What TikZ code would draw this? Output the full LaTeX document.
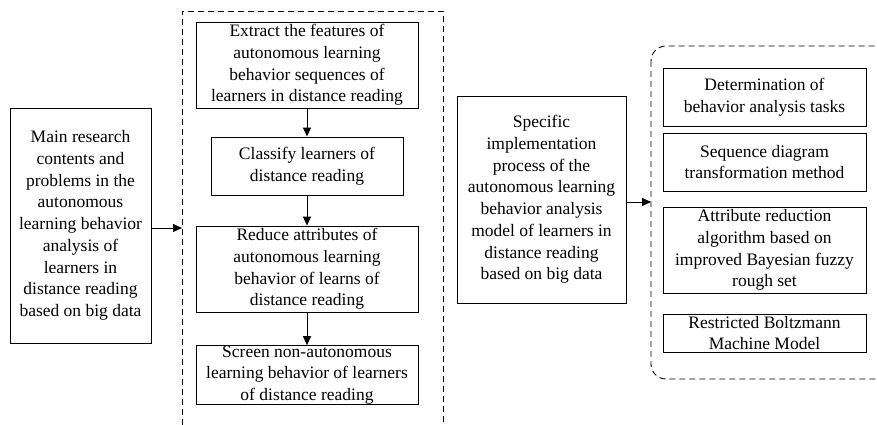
\documentclass[tikz,border=0pt]{standalone}
\usepackage{fontspec}
\setmainfont{Liberation Serif}
\usetikzlibrary{arrows.meta}
\begin{document}
\begin{tikzpicture}[x=1pt,y=-1pt,
 box/.style={draw, line width=0.9pt, align=center, inner sep=0pt, font=\fontsize{17.5}{21.7}\selectfont},
 arr/.style={-{Triangle[length=9pt,width=8pt]}, line width=0.9pt},
 frame/.style={line width=0.9pt, dash pattern=on 6pt off 4pt}]
\useasboundingbox (0,0) rectangle (877,425);
% left main box
\node[box, minimum width=141pt, minimum height=235pt] (main) at (80.5,225.5)
 {Main research\\contents and\\problems in the\\autonomous\\learning behavior\\analysis of\\learners in\\distance reading\\based on big data};
% dashed frame 1
\draw[frame] (182,425) -- (182,11) -- (443,11) -- (443,425);
\coordinate (f1) at (182,228);
\node[box, minimum width=222pt, minimum height=86pt] (A) at (307,65)
 {Extract the features of\\autonomous learning\\behavior sequences of\\learners in distance reading};
\node[box, minimum width=192pt, minimum height=58pt] (B) at (307,166)
 {Classify learners of\\distance reading};
\node[box, minimum width=222pt, minimum height=86pt] (C) at (307,269)
 {Reduce attributes of\\autonomous learning\\behavior of learns of\\distance reading};
\node[box, minimum width=222pt, minimum height=58pt] (D) at (307,375)
 {Screen non-autonomous\\learning behavior of learners\\of distance reading};
\draw[arr] (main.east |- f1) -- (f1);
\draw[arr] (A) -- (B);
\draw[arr] (B) -- (C);
\draw[arr] (C) -- (D);
% specific box
\node[box, minimum width=169pt, minimum height=207pt] (spec) at (541.5,199.5)
 {Specific\\implementation\\process of the\\autonomous learning\\behavior analysis\\model of learners in\\distance reading\\based on big data};
% rounded dashed frame
\draw[frame, rounded corners=15pt] (651,46) rectangle (892,379);
\coordinate (f2) at (651,202);
\draw[arr] (spec.east |- f2) -- (f2);
\node[box, minimum width=203pt, minimum height=58pt] (R1) at (764.5,97)
 {Determination of\\behavior analysis tasks};
\node[box, minimum width=203pt, minimum height=58pt] (R2) at (764.5,162)
 {Sequence diagram\\transformation method};
\node[box, minimum width=203pt, minimum height=86pt] (R3) at (764.5,250)
 {Attribute reduction\\algorithm based on\\improved Bayesian fuzzy\\rough set};
\node[box, minimum width=203pt, minimum height=38pt] (R4) at (764.5,333)
 {Restricted Boltzmann\\Machine Model};
\end{tikzpicture}
\end{document}
